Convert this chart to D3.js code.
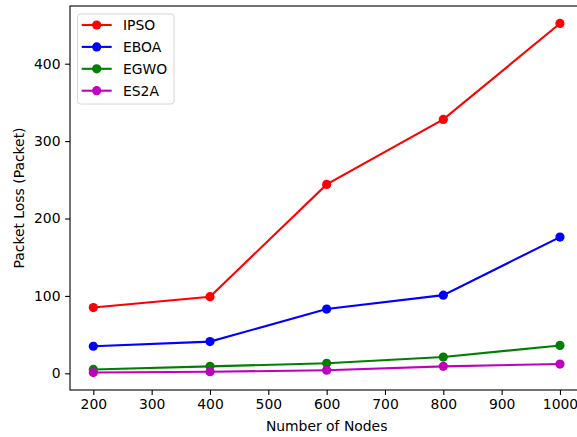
<!DOCTYPE html>
<html><head><meta charset="utf-8">
<script src="https://cdn.jsdelivr.net/npm/d3@7"></script>
<style>body{margin:0;background:#fff;} svg{display:block;} text{font-family:"DejaVu Sans",sans-serif;}</style>
</head><body><svg id="c" width="577" height="437"></svg>
<script>
const nodes = [200, 400, 600, 800, 1000];
const IPSO = [85, 99, 244, 328, 452];
const EBOA = [35, 41, 83, 101, 176];
const EGWO = [5, 9, 13, 21, 36];
const ES2A = [1, 2, 4, 9, 12];
const seriesNames = ["IPSO", "EBOA", "EGWO", "ES2A"];
const seriesColors = ["#ff0000", "#0000ff", "#008000", "#bf00bf"];
const xTicks = [200, 300, 400, 500, 600, 700, 800, 900, 1000];
const yTicks = [0, 100, 200, 300, 400];

const series = [IPSO, EBOA, EGWO, ES2A];
const svg = d3.select("#c");
const L = 70, R = 583.3, T = 6, B = 390;
const all = series.flat();
const ymin = d3.min(all), ymax = d3.max(all), yr = ymax - ymin;
const x = d3.scaleLinear().domain([160, 1040]).range([L, R]);
const y = d3.scaleLinear().domain([ymin - 0.05*yr, ymax + 0.05*yr]).range([B, T]);

const fs = "13.9px";
const xa = svg.append("g").attr("transform", `translate(0,${B})`)
  .call(d3.axisBottom(x).tickValues(xTicks).tickSize(4.9).tickPadding(4.6).tickFormat(d3.format("d")));
const ya = svg.append("g").attr("transform", `translate(${L},0)`)
  .call(d3.axisLeft(y).tickValues(yTicks).tickSize(4.9).tickPadding(4.6).tickFormat(d3.format("d")));
[xa, ya].forEach(a => {
  a.select(".domain").remove();
  a.selectAll("line").attr("stroke", "#000").attr("stroke-width", 1.1);
  a.selectAll("text").attr("font-family", "DejaVu Sans").attr("font-size", fs).attr("fill", "#000");
});

// spines
svg.append("rect").attr("x", L).attr("y", T).attr("width", R - L).attr("height", B - T)
  .attr("fill", "none").attr("stroke", "#000").attr("stroke-width", 1.1);

const line = d3.line().x((d, i) => x(nodes[i])).y(d => y(d));
series.forEach((s, k) => {
  svg.append("path").datum(s).attr("d", line).attr("fill", "none")
    .attr("stroke", seriesColors[k]).attr("stroke-width", 2.1);
  svg.append("g").selectAll("circle").data(s).join("circle")
    .attr("cx", (d, i) => x(nodes[i])).attr("cy", d => y(d)).attr("r", 4.6)
    .attr("fill", seriesColors[k]);
});

svg.append("text").attr("x", (L + R) / 2).attr("y", 431).attr("text-anchor", "middle")
  .attr("font-size", fs).text("Number of Nodes");
svg.append("text").attr("transform", `translate(23.5,${(T + B) / 2}) rotate(-90)`)
  .attr("text-anchor", "middle").attr("font-size", fs).text("Packet Loss (Packet)");

// legend
const lg = svg.append("g");
lg.append("rect").attr("x", 77.5).attr("y", 14).attr("width", 96.5).attr("height", 90)
  .attr("rx", 3).attr("fill", "#fff").attr("fill-opacity", 0.8).attr("stroke", "#d6d6d6").attr("stroke-width", 1);
seriesNames.forEach((n, k) => {
  const yy = 25 + k * 21.9;
  lg.append("line").attr("x1", 81.7).attr("x2", 111.7).attr("y1", yy).attr("y2", yy)
    .attr("stroke", seriesColors[k]).attr("stroke-width", 2.1);
  lg.append("circle").attr("cx", 96.7).attr("cy", yy).attr("r", 4.6).attr("fill", seriesColors[k]);
  lg.append("text").attr("x", 123).attr("y", yy + 5).attr("font-size", fs).text(n);
});
</script></body></html>
